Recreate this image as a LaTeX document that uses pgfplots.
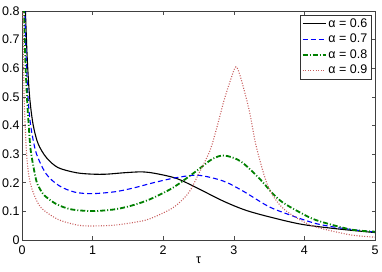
\documentclass[border=0pt]{standalone}
\usepackage{pgfplots}
\pgfplotsset{compat=1.18}
\usepackage{fontspec}
\setmainfont{Liberation Sans}
\definecolor{myred}{RGB}{200,95,95}
\definecolor{mygreen}{RGB}{0,128,0}
\begin{document}
\begin{tikzpicture}
\begin{axis}[
  scale only axis, width=353pt, height=229pt,
  xmin=0, xmax=5, ymin=0, ymax=0.8,
  xtick={0,1,2,3,4,5}, ytick={0,0.1,0.2,0.3,0.4,0.5,0.6,0.7,0.8},
  /pgf/number format/assume math mode=true,
  /pgf/number format/fixed,
  tick label style={font=\fontsize{12.5}{14}\selectfont},
  xticklabel style={yshift=-2pt},
  yticklabel style={xshift=1pt},
  tick align=inside, major tick length=3.5pt,
  tick style={black!70, line width=0.5pt},
  axis line style={black!75, line width=0.7pt},
  xlabel={τ}, xlabel style={font=\fontsize{12.5}{14}\selectfont, yshift=4pt},
  clip=true,
  legend style={at={(rel axis cs:1,1)}, anchor=north east, xshift=-4pt, yshift=-4pt,
    draw=black!80, font=\fontsize{12.5}{14}\selectfont, inner sep=1.5pt,
    row sep=1.2pt, cells={anchor=west}},
  legend image code/.code={\draw[#1] (0pt,0pt) -- (23pt,0pt);},
]
\addplot[black, line width=1.1pt, smooth] coordinates {
(0.03,0.95)(0.05,0.79)(0.075,0.63)(0.108,0.5)(0.156,0.405)(0.227,0.337)(0.345,0.288)(0.51,0.253)(0.77,0.235)(1.0,0.23)(1.2,0.23)(1.45,0.235)(1.7,0.238)(1.9,0.232)(2.19,0.215)(2.47,0.183)(2.85,0.136)(3.18,0.103)(3.58,0.076)(3.98,0.054)(4.5,0.038)(5,0.026)};
\addlegendentry{α = 0.6}
\addplot[blue, line width=1.1pt, dashed, dash pattern=on 5pt off 3pt, smooth] coordinates {
(0.025,0.95)(0.045,0.75)(0.06,0.63)(0.085,0.5)(0.12,0.405)(0.2,0.305)(0.345,0.23)(0.53,0.189)(0.75,0.167)(1.0,0.162)(1.33,0.169)(1.6,0.183)(1.86,0.2)(2.19,0.218)(2.5,0.226)(2.85,0.206)(3.13,0.171)(3.47,0.12)(3.7,0.096)(4.17,0.057)(4.65,0.037)(5,0.028)};
\addlegendentry{α = 0.7}
\addplot[mygreen, line width=1.8pt, dash pattern=on 5pt off 2pt on 1pt off 2pt, smooth] coordinates {
(0.015,0.95)(0.03,0.78)(0.047,0.63)(0.07,0.5)(0.094,0.405)(0.125,0.31)(0.2,0.21)(0.25,0.18)(0.32,0.155)(0.49,0.125)(0.7,0.107)(1.0,0.101)(1.31,0.107)(1.55,0.12)(1.81,0.142)(2.14,0.183)(2.47,0.241)(2.69,0.282)(2.86,0.295)(3.09,0.276)(3.35,0.218)(3.56,0.16)(3.7,0.13)(3.94,0.096)(4.17,0.069)(4.65,0.037)(5,0.029)};
\addlegendentry{α = 0.8}
\addplot[myred, line width=1.1pt, dash pattern=on 1pt off 1.6pt, smooth] coordinates {
(0.008,0.95)(0.02,0.65)(0.03,0.5)(0.045,0.4)(0.065,0.3)(0.1,0.22)(0.16,0.165)(0.27,0.113)(0.51,0.072)(0.79,0.052)(1.0,0.049)(1.31,0.052)(1.6,0.062)(1.81,0.074)(2.14,0.113)(2.36,0.165)(2.5,0.23)(2.66,0.311)(2.76,0.393)(2.86,0.486)(2.95,0.556)(3.03,0.605)(3.1,0.565)(3.22,0.451)(3.31,0.335)(3.44,0.218)(3.54,0.16)(3.7,0.11)(3.94,0.07)(4.17,0.045)(4.65,0.018)(5,0.01)};
\addlegendentry{α = 0.9}
\end{axis}
\pgfresetboundingbox
\path[use as bounding box] (-22pt,-32pt) rectangle (360pt,240pt);
\end{tikzpicture}
\end{document}
